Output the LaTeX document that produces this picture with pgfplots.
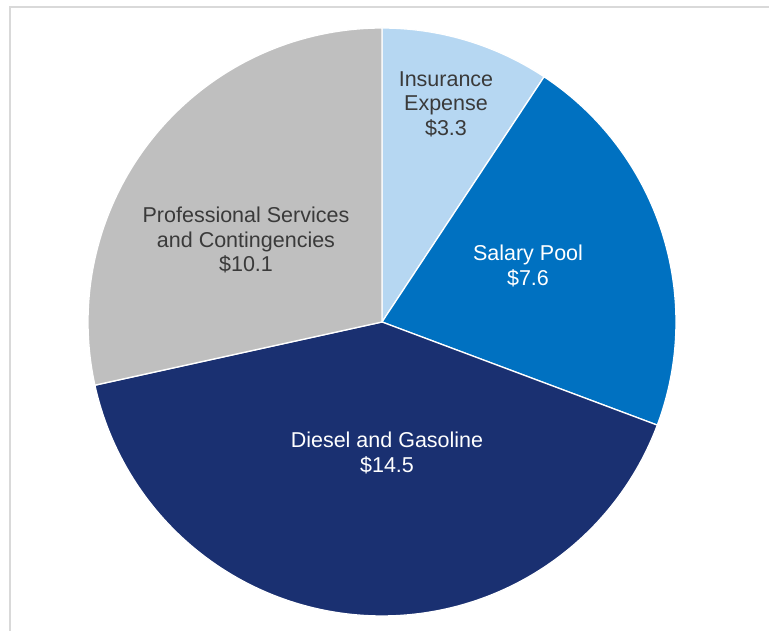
\documentclass[border=0pt]{standalone}
\usepackage{pgfplots}
\pgfplotsset{compat=1.18}
\usepackage{pgfplotstable}
\usepackage{fontspec}
\setmainfont{Liberation Sans}
\definecolor{cIns}{HTML}{B6D7F2}
\definecolor{cSal}{HTML}{0071C1}
\definecolor{cDie}{HTML}{1A3071}
\definecolor{cPro}{HTML}{BFBFBF}
\definecolor{cFrame}{HTML}{D9D9D9}
\definecolor{cTxt}{HTML}{3A3A3A}
% values (millions of dollars)
\pgfplotstableread{
name value
Insurance 3.3
Salary 7.6
Diesel 14.5
Professional 10.1
}\pietable
\begin{document}
\begin{tikzpicture}
\pgfmathsetmacro{\vA}{3.3}
\pgfmathsetmacro{\vB}{7.6}
\pgfmathsetmacro{\vC}{14.5}
\pgfmathsetmacro{\vD}{10.1}
\pgfmathsetmacro{\tot}{\vA+\vB+\vC+\vD}
\pgfmathsetmacro{\aZ}{90}
\pgfmathsetmacro{\aA}{90-360*\vA/\tot}
\pgfmathsetmacro{\aB}{90-360*(\vA+\vB)/\tot}
\pgfmathsetmacro{\aC}{90-360*(\vA+\vB+\vC)/\tot}
\pgfmathsetmacro{\aD}{90-360}
\def\cx{382}\def\cy{309}\def\R{294}
\begin{axis}[
  at={(0,0)}, anchor=south west,
  scale only axis, width=769pt, height=631pt,
  xmin=0, xmax=769, ymin=0, ymax=631,
  hide axis, clip=false,
]
% frame
\addplot[cFrame, line width=2pt] coordinates {(10,0) (10,624) (769,624)};
% slices
\addplot[fill=cIns, draw=white, line width=1.3pt, domain=\aA:\aZ, samples=60, variable=\t]
  ({\cx+\R*cos(\t)},{\cy+\R*sin(\t)}) -- (axis cs:\cx,\cy) -- cycle;
\addplot[fill=cSal, draw=white, line width=1.3pt, domain=\aB:\aA, samples=80, variable=\t]
  ({\cx+\R*cos(\t)},{\cy+\R*sin(\t)}) -- (axis cs:\cx,\cy) -- cycle;
\addplot[fill=cDie, draw=white, line width=1.3pt, domain=\aC:\aB, samples=120, variable=\t]
  ({\cx+\R*cos(\t)},{\cy+\R*sin(\t)}) -- (axis cs:\cx,\cy) -- cycle;
\addplot[fill=cPro, draw=white, line width=1.3pt, domain=\aD:\aC, samples=100, variable=\t]
  ({\cx+\R*cos(\t)},{\cy+\R*sin(\t)}) -- (axis cs:\cx,\cy) -- cycle;
% labels
\begin{scope}[every node/.style={align=center, font=\fontsize{21.5}{24.5}\selectfont, inner sep=0pt}]
\node[text=cTxt] at (axis cs:446,527) {Insurance\\Expense\\\$3.3};
\node[text=white] at (axis cs:528,365) {Salary Pool\\\$7.6};
\node[text=cTxt] at (axis cs:246,391) {Professional Services\\and Contingencies\\\$10.1};
\node[text=white] at (axis cs:387,178) {Diesel and Gasoline\\\$14.5};
\end{scope}
\end{axis}
\pgfresetboundingbox
\useasboundingbox (0,0) rectangle (769pt,631pt);
\end{tikzpicture}
\end{document}
